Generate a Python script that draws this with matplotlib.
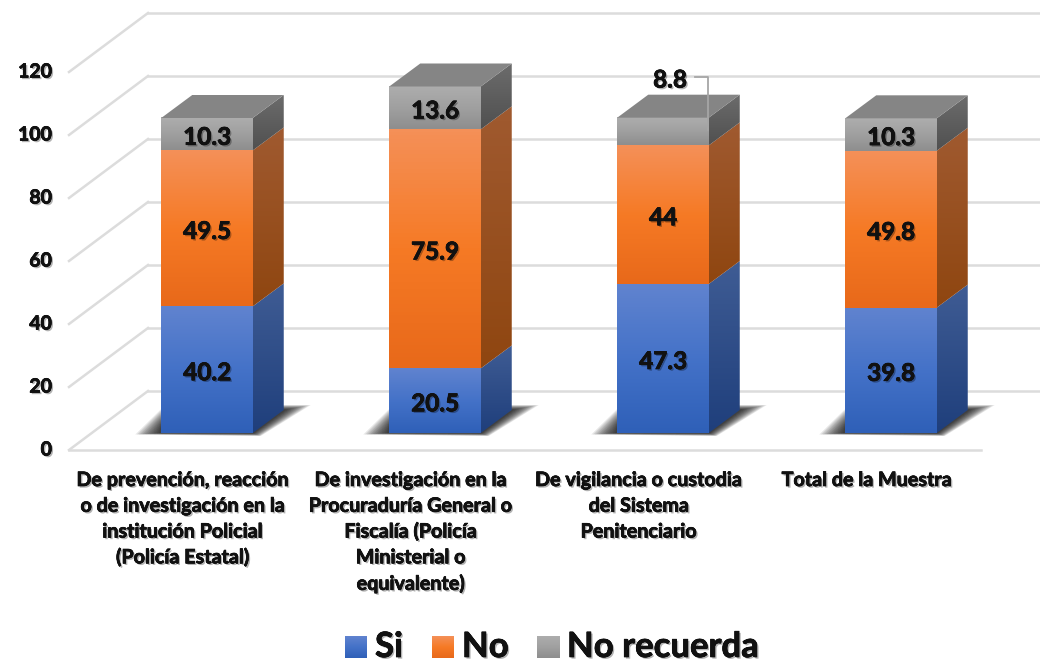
"""
Stacked 3D-look column chart: Si / No / No recuerda by type of institution.
"""

import numpy as np
import matplotlib
matplotlib.use("Agg")
import matplotlib.pyplot as plt
import matplotlib.patheffects as pe
from matplotlib.colors import LinearSegmentedColormap
from matplotlib.patches import Polygon

categories = [
    "De prevención, reacción\no de investigación en la\ninstitución Policial\n(Policía Estatal)",
    "De investigación en la\nProcuraduría General o\nFiscalía (Policía\nMinisterial o\nequivalente)",
    "De vigilancia o custodia\ndel Sistema\nPenitenciario",
    "Total de la Muestra",
]
series_names = ["Si", "No", "No recuerda"]
si_values = [40.2, 20.5, 47.3, 39.8]
no_values = [49.5, 75.9, 44, 49.8]
no_recuerda_values = [10.3, 13.6, 8.8, 10.3]
y_ticks = [0, 20, 40, 60, 80, 100, 120]

# light -> dark, front face and side face of each series
front_colors = [
    ("#6083cf", "#4472c8", "#2f60b8"),
    ("#f49058", "#f67a25", "#e8691a"),
    ("#adadad", "#a0a0a0", "#8e8e8e"),
]
side_colors = [("#3f5c94", "#1f3f7c"), ("#a05a30", "#8f4610"), ("#6c6c6c", "#505050")]
top_color = "#858585"

WIDTH, HEIGHT = 1040, 661
PX_X = 228.0  # pixels per category
PX_Y = 3.15  # pixels per value unit
X0, Y0 = 207.0, 433.0  # pixel of the first bar centre / its base

BAR_W = 91.5 / PX_X
DX = 31 / PX_X
DY = 23 / PX_Y
FLOOR_DX = 79 / PX_X
FLOOR_DY = 59 / PX_Y
FLOOR_Y = -17 / PX_Y  # front floor edge relative to the bar base
FLOOR_LEFT = -138 / PX_X
TEXT_DROP = 3 / PX_Y  # value labels sit a little under the segment centre

INK = "#111111"
SHADOW = [
    pe.withSimplePatchShadow(offset=(1.2, -1.2), shadow_rgbFace="#000000", alpha=0.3),
    pe.withStroke(linewidth=0.5, foreground=INK),
    pe.Normal(),
]


def gradient(ax, colors, xs, ys, clip=None, zorder=2):
    """Fill a box with a vertical gradient, optionally clipped to a polygon."""
    cmap = LinearSegmentedColormap.from_list("g", colors)
    im = ax.imshow(
        np.linspace(0, 1, 64).reshape(-1, 1),
        extent=(min(xs), max(xs), max(ys), min(ys)),
        origin="lower",
        cmap=cmap,
        aspect="auto",
        zorder=zorder,
    )
    if clip is not None:
        patch = Polygon(clip, closed=True, transform=ax.transData, fc="none", ec="none")
        ax.add_patch(patch)
        im.set_clip_path(patch)
    return im


def draw_grid(ax):
    grid = "#dcdcdc"
    x_right = (WIDTH - X0) / PX_X
    for v in y_ticks:
        y = FLOOR_Y + v
        ax.plot([FLOOR_LEFT, FLOOR_LEFT + FLOOR_DX], [y, y + FLOOR_DY], color=grid, lw=1.8, zorder=1)
        ax.plot([FLOOR_LEFT + FLOOR_DX, x_right], [y + FLOOR_DY] * 2, color=grid, lw=1.8, zorder=1)
        ax.text(FLOOR_LEFT - 17 / PX_X, y, str(v), ha="right", va="center",
                fontsize=14, fontweight="bold", color=INK, path_effects=SHADOW)
    floor_end = (981 - X0) / PX_X
    ax.plot([FLOOR_LEFT, floor_end], [FLOOR_Y, FLOOR_Y], color=grid, lw=1.8, zorder=1)


def draw_floor_shadow(ax, x):
    """Soft shadow on the floor: stacked see-through polygons growing outwards."""
    left = x - BAR_W / 2
    right = x + BAR_W / 2
    inner = np.array([
        (left, 0),
        (right, 0),
        (right + DX, DY),
        (right + DX, DY),
        (left, 5 / PX_Y),
    ])
    outer = np.array([
        (left - 26 / PX_X, -1.5 / PX_Y),
        (right + 8 / PX_X, -3 / PX_Y),
        (right + 58 / PX_X, 28 / PX_Y),
        (right + 31 / PX_X, 28 / PX_Y),
        (left, 24 / PX_Y),
    ])
    for t in np.linspace(0.1, 1.0, 14):
        points = inner + t * (outer - inner)
        ax.add_patch(Polygon(points, closed=True, fc="#000000", ec="none", alpha=0.09, zorder=1.5))


def draw_bar(ax, x, stack):
    left = x - BAR_W / 2
    right = x + BAR_W / 2
    bottom = 0.0
    for value, front, side in zip(stack, front_colors, side_colors):
        top = bottom + value
        gradient(ax, front, (left, right), (bottom, top))
        face = [(right, bottom), (right + DX, bottom + DY), (right + DX, top + DY), (right, top)]
        gradient(ax, side, (right, right + DX), (bottom, top + DY), clip=face)
        bottom = top
    lid = [(left, bottom), (right, bottom), (right + DX, bottom + DY), (left + DX, bottom + DY)]
    ax.add_patch(Polygon(lid, closed=True, fc=top_color, ec="none", zorder=3))


def main():
    plt.rcParams["font.family"] = ["Lato", "DejaVu Sans"]

    fig = plt.figure(figsize=(WIDTH / 100, HEIGHT / 100), dpi=100)
    ax = fig.add_axes([0, 0, 1, 1])

    draw_grid(ax)

    stacks = list(zip(si_values, no_values, no_recuerda_values))
    for i, stack in enumerate(stacks):
        draw_floor_shadow(ax, i)
        draw_bar(ax, i, stack)

        base = 0.0
        for j, value in enumerate(stack):
            mid = base + value / 2
            base += value
            if i == 2 and j == 2:
                continue  # this one has a callout
            ax.text(i, mid - TEXT_DROP, f"{value:g}", ha="center", va="center", fontsize=17.5,
                    fontweight="bold", color=INK, zorder=5, path_effects=SHADOW)

        ax.text(i - 24 / PX_X, -37 / PX_Y, categories[i], ha="center", va="top", fontsize=14.2,
                fontweight="bold", color=INK, linespacing=1.36, zorder=5, path_effects=SHADOW)

    # callout for the small segment on the third bar
    label_y = (Y0 - 80) / PX_Y
    line_y = (Y0 - 77) / PX_Y
    ax.text(2 + 7 / PX_X, label_y, f"{no_recuerda_values[2]:g}", ha="center", va="center", fontsize=17.5,
            fontweight="bold", color=INK, zorder=5, path_effects=SHADOW)
    bar_top = si_values[2] + no_values[2] + no_recuerda_values[2]
    x_leader = 2 + BAR_W / 2 - 1 / PX_X
    ax.plot([2 + 32 / PX_X, x_leader, x_leader], [line_y, line_y, bar_top - 4],
            color="#a6a6a6", lw=1.3, zorder=4)

    # legend
    legend_y = (Y0 - 647) / PX_Y
    box_h = 22 / PX_Y
    box_w = 22 / PX_X
    legend_x = [(345 - X0) / PX_X, (432 - X0) / PX_X, (537 - X0) / PX_X]
    for name, colors, lx in zip(series_names, front_colors, legend_x):
        gradient(ax, colors, (lx, lx + box_w), (legend_y - box_h / 2, legend_y + box_h / 2))
        ax.text(lx + box_w + 8 / PX_X, legend_y, name, ha="left", va="center", fontsize=25,
                fontweight="bold", color=INK, zorder=5, path_effects=SHADOW)

    # imshow resets limits, so set them last
    ax.set_xlim(-X0 / PX_X, (WIDTH - X0) / PX_X)
    ax.set_ylim((Y0 - HEIGHT) / PX_Y, Y0 / PX_Y)
    ax.axis("off")

    fig.savefig("out.png", dpi=100, facecolor="white")
    plt.close(fig)


if __name__ == "__main__":
    main()
